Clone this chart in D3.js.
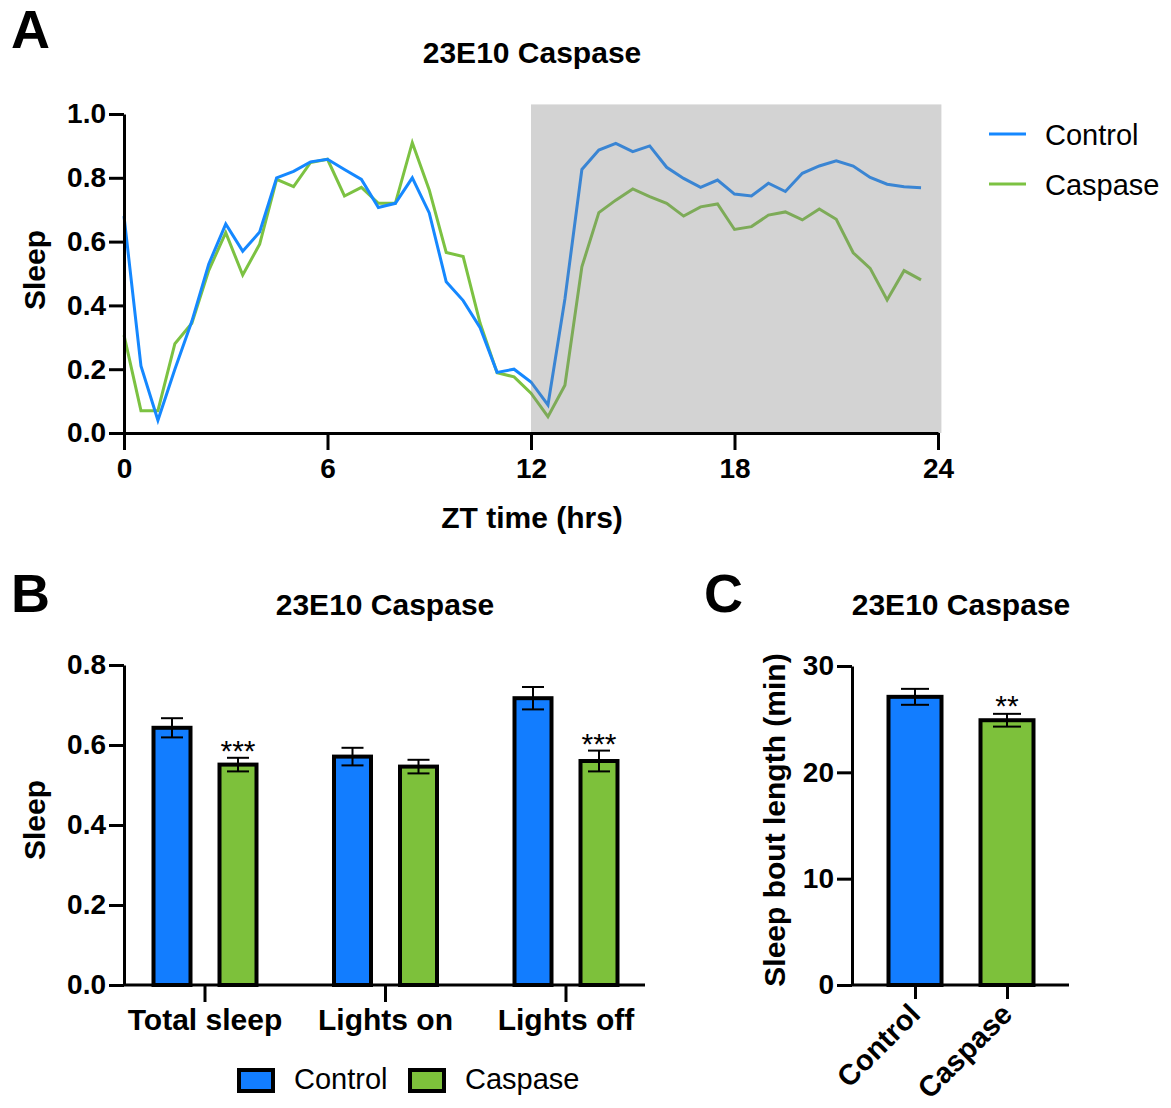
<!DOCTYPE html>
<html lang="en">
<head>
    <meta charset="UTF-8">
    <title>23E10 Caspase sleep</title>
    <style>
        body { margin: 0; background: #fff; }
        svg { display: block; font-family: "Liberation Sans", Arial, sans-serif; }
    </style>
</head>
<body>
    <div id="chart"></div>

    <script src="https://d3js.org/d3.v7.min.js"></script>
    <script>
        // ---- data ----
        // Panel A: sleep per 30 min bin
        const ztHours = [0, 0.5, 1, 1.5, 2, 2.5, 3, 3.5, 4, 4.5, 5, 5.5, 6, 6.5, 7, 7.5, 8, 8.5, 9, 9.5, 10, 10.5, 11, 11.5,
                         12, 12.5, 13, 13.5, 14, 14.5, 15, 15.5, 16, 16.5, 17, 17.5, 18, 18.5, 19, 19.5, 20, 20.5, 21, 21.5, 22, 22.5, 23, 23.5];
        const controlSleep = [0.68, 0.21, 0.04, 0.20, 0.35, 0.53, 0.655, 0.57, 0.63, 0.80, 0.82, 0.85,
                              0.858, 0.826, 0.795, 0.707, 0.72, 0.80, 0.69, 0.474, 0.415, 0.33, 0.19, 0.20,
                              0.16, 0.088, 0.42, 0.826, 0.887, 0.908, 0.882, 0.90, 0.833, 0.798, 0.77, 0.793,
                              0.749, 0.743, 0.783, 0.757, 0.814, 0.837, 0.853, 0.837, 0.801, 0.78, 0.772, 0.769];
        const caspaseSleep = [0.307, 0.07, 0.07, 0.28, 0.344, 0.51, 0.628, 0.495, 0.592, 0.795, 0.772, 0.848,
                              0.858, 0.743, 0.77, 0.72, 0.72, 0.91, 0.762, 0.566, 0.553, 0.344, 0.189, 0.176,
                              0.125, 0.051, 0.15, 0.521, 0.691, 0.73, 0.765, 0.741, 0.72, 0.68, 0.709, 0.718,
                              0.638, 0.647, 0.683, 0.693, 0.668, 0.702, 0.67, 0.565, 0.516, 0.417, 0.509, 0.48];
        const darkPhase = [12, 24.1];
        const ztTicks = [0, 6, 12, 18, 24];

        // Panel B: sleep by phase
        const phases = ["Total sleep", "Lights on", "Lights off"];
        const controlMeans = [0.643, 0.571, 0.717];
        const controlSem = [0.024, 0.022, 0.028];
        const caspaseMeans = [0.551, 0.546, 0.560];
        const caspaseSem = [0.017, 0.017, 0.026];
        const phaseSig = ["***", "", "***"];

        // Panel C: sleep bout length
        const genotypes = ["Control", "Caspase"];
        const boutMeans = [27.1, 24.9];
        const boutSem = [0.75, 0.6];
        const boutSig = ["", "**"];

        const series = ["Control", "Caspase"];
        const lineColor = { Control: "#1588ff", Caspase: "#7cc242" };
        const barColor = { Control: "#127dff", Caspase: "#7dc13b" };

        const svg = d3.select("#chart").append("svg")
            .attr("width", 1171)
            .attr("height", 1108);

        function styleAxis(g, size) {
            g.selectAll("path, line").attr("stroke", "#000").attr("stroke-width", 3);
            g.selectAll("text")
                .attr("font-size", size)
                .attr("font-weight", "bold")
                .attr("fill", "#000")
                .attr("font-family", "Liberation Sans, Arial, sans-serif");
        }

        function boldText(x, y, str, size, anchor) {
            return svg.append("text")
                .attr("x", x).attr("y", y)
                .attr("font-size", size)
                .attr("font-weight", "bold")
                .attr("text-anchor", anchor || "middle")
                .text(str);
        }

        // ================= Panel A =================
        const xA = d3.scaleLinear().domain([0, 24]).range([124, 938]);
        const yA = d3.scaleLinear().domain([0, 1]).range([433, 114]);

        const line = d3.line()
            .x((d, i) => xA(ztHours[i]))
            .y(d => yA(d));

        svg.append("path")
            .datum(caspaseSleep)
            .attr("fill", "none")
            .attr("stroke", lineColor.Caspase)
            .attr("stroke-width", 3)
            .attr("d", line);

        svg.append("path")
            .datum(controlSleep)
            .attr("fill", "none")
            .attr("stroke", lineColor.Control)
            .attr("stroke-width", 3)
            .attr("d", line);

        // lights-off shading lies over the lines
        svg.append("rect")
            .attr("x", xA(darkPhase[0]))
            .attr("y", yA(1.03))
            .attr("width", xA(darkPhase[1]) - xA(darkPhase[0]))
            .attr("height", yA(0) - yA(1.03))
            .attr("fill", "#808080")
            .attr("fill-opacity", 0.35);

        svg.append("g")
            .attr("transform", "translate(124,0)")
            .call(d3.axisLeft(yA).ticks(5).tickFormat(d3.format(".1f")).tickSize(15).tickPadding(3).tickSizeOuter(0))
            .call(g => styleAxis(g, 28));

        svg.append("g")
            .attr("transform", "translate(0,433)")
            .call(d3.axisBottom(xA).tickValues(ztTicks).tickSize(17).tickPadding(8).tickSizeOuter(0))
            .call(g => styleAxis(g, 28));

        boldText(11, 48, "A", 54, "start");
        boldText(532, 63, "23E10 Caspase", 30);
        boldText(532, 528, "ZT time (hrs)", 30);
        boldText(0, 0, "Sleep", 30).attr("transform", "translate(45,270) rotate(-90)");

        // legend A
        const legA = svg.append("g").selectAll("g")
            .data(series)
            .join("g")
            .attr("transform", (d, i) => `translate(989,${134 + i * 50})`);
        legA.append("line")
            .attr("x1", 0).attr("x2", 37)
            .attr("stroke", d => lineColor[d])
            .attr("stroke-width", 3);
        legA.append("text")
            .attr("x", 56).attr("y", 11)
            .attr("font-size", 29)
            .text(d => d);

        // ================= Panel B =================
        const xB = d3.scaleBand().domain(phases).range([114.75, 656.25]);
        const subB = d3.scalePoint().domain(series).range([-33, 33]);
        const yB = d3.scaleLinear().domain([0, 0.8]).range([985, 665]);

        const barsB = phases.map((p, i) => [
            { phase: p, key: "Control", mean: controlMeans[i], sem: controlSem[i], sig: "" },
            { phase: p, key: "Caspase", mean: caspaseMeans[i], sem: caspaseSem[i], sig: phaseSig[i] }
        ]).flat();
        const cx = d => xB(d.phase) + xB.bandwidth() / 2 + subB(d.key);
        const bwB = 37;

        svg.append("g").selectAll("rect")
            .data(barsB)
            .join("rect")
            .attr("x", d => cx(d) - bwB / 2)
            .attr("y", d => yB(d.mean))
            .attr("width", bwB)
            .attr("height", d => yB(0) - yB(d.mean))
            .attr("fill", d => barColor[d.key])
            .attr("stroke", "#000")
            .attr("stroke-width", 4);

        const errB = svg.append("g").attr("stroke", "#000").attr("stroke-width", 2)
            .selectAll("g").data(barsB).join("g");
        errB.append("line")
            .attr("x1", cx).attr("x2", cx)
            .attr("y1", d => yB(d.mean - d.sem)).attr("y2", d => yB(d.mean + d.sem));
        errB.append("line")
            .attr("x1", d => cx(d) - 11).attr("x2", d => cx(d) + 11)
            .attr("y1", d => yB(d.mean + d.sem)).attr("y2", d => yB(d.mean + d.sem));
        errB.append("line")
            .attr("x1", d => cx(d) - 11).attr("x2", d => cx(d) + 11)
            .attr("y1", d => yB(d.mean - d.sem)).attr("y2", d => yB(d.mean - d.sem));

        // significance stars sit just above the error cap
        svg.append("g").selectAll("text")
            .data(barsB.filter(d => d.sig))
            .join("text")
            .attr("x", cx)
            .attr("y", d => yB(d.mean + d.sem) + 3)
            .attr("text-anchor", "middle")
            .attr("font-size", 30)
            .text(d => d.sig);

        svg.append("g")
            .attr("transform", "translate(124,0)")
            .call(d3.axisLeft(yB).ticks(4).tickFormat(d3.format(".1f")).tickSize(15).tickPadding(3).tickSizeOuter(0))
            .call(g => styleAxis(g, 28));

        svg.append("g")
            .attr("transform", "translate(0,985)")
            .call(d3.axisBottom(xB).tickSize(17).tickPadding(7).tickSizeOuter(0))
            .call(g => g.select(".domain").remove())
            .call(g => g.append("line").attr("x1", 124).attr("x2", 645))
            .call(g => styleAxis(g, 30));

        boldText(11, 612, "B", 54, "start");
        boldText(385, 615, "23E10 Caspase", 30);
        boldText(0, 0, "Sleep", 30).attr("transform", "translate(45,820) rotate(-90)");

        // legend B
        const legB = svg.append("g").selectAll("g")
            .data(series)
            .join("g")
            .attr("transform", (d, i) => `translate(${239 + i * 171},1070)`);
        legB.append("rect")
            .attr("width", 34).attr("height", 21)
            .attr("fill", d => barColor[d])
            .attr("stroke", "#000")
            .attr("stroke-width", 4);
        legB.append("text")
            .attr("x", 55).attr("y", 19)
            .attr("font-size", 29)
            .text(d => d);

        // ================= Panel C =================
        const xC = d3.scalePoint().domain(genotypes).range([915, 1007]);
        const yC = d3.scaleLinear().domain([0, 30]).range([985, 666]);
        const barsC = genotypes.map((g, i) => ({ key: g, mean: boutMeans[i], sem: boutSem[i], sig: boutSig[i] }));
        const bwC = 53;

        svg.append("g").selectAll("rect")
            .data(barsC)
            .join("rect")
            .attr("x", d => xC(d.key) - bwC / 2)
            .attr("y", d => yC(d.mean))
            .attr("width", bwC)
            .attr("height", d => yC(0) - yC(d.mean))
            .attr("fill", d => barColor[d.key])
            .attr("stroke", "#000")
            .attr("stroke-width", 4);

        const errC = svg.append("g").attr("stroke", "#000").attr("stroke-width", 2)
            .selectAll("g").data(barsC).join("g");
        errC.append("line")
            .attr("x1", d => xC(d.key)).attr("x2", d => xC(d.key))
            .attr("y1", d => yC(d.mean - d.sem)).attr("y2", d => yC(d.mean + d.sem));
        errC.append("line")
            .attr("x1", d => xC(d.key) - 14).attr("x2", d => xC(d.key) + 14)
            .attr("y1", d => yC(d.mean + d.sem)).attr("y2", d => yC(d.mean + d.sem));
        errC.append("line")
            .attr("x1", d => xC(d.key) - 14).attr("x2", d => xC(d.key) + 14)
            .attr("y1", d => yC(d.mean - d.sem)).attr("y2", d => yC(d.mean - d.sem));

        svg.append("g").selectAll("text")
            .data(barsC.filter(d => d.sig))
            .join("text")
            .attr("x", d => xC(d.key))
            .attr("y", d => yC(d.mean + d.sem) + 2)
            .attr("text-anchor", "middle")
            .attr("font-size", 30)
            .text(d => d.sig);

        svg.append("g")
            .attr("transform", "translate(852,0)")
            .call(d3.axisLeft(yC).tickValues([0, 10, 20, 30]).tickSize(15).tickPadding(3).tickSizeOuter(0))
            .call(g => styleAxis(g, 28));

        svg.append("g")
            .attr("transform", "translate(0,985)")
            .call(d3.axisBottom(xC).tickSize(14).tickFormat("").tickSizeOuter(0))
            .call(g => g.select(".domain").remove())
            .call(g => g.append("line").attr("x1", 852).attr("x2", 1069))
            .call(g => styleAxis(g, 30));

        svg.append("g").selectAll("text")
            .data(genotypes)
            .join("text")
            .attr("transform", d => `translate(${xC(d) + 7},1016) rotate(-45)`)
            .attr("text-anchor", "end")
            .attr("font-size", 29)
            .attr("font-weight", "bold")
            .text(d => d);

        boldText(704, 612, "C", 54, "start");
        boldText(961, 615, "23E10 Caspase", 30);
        boldText(0, 0, "Sleep bout length (min)", 30).attr("transform", "translate(785,820) rotate(-90)");
    </script>
</body>
</html>
